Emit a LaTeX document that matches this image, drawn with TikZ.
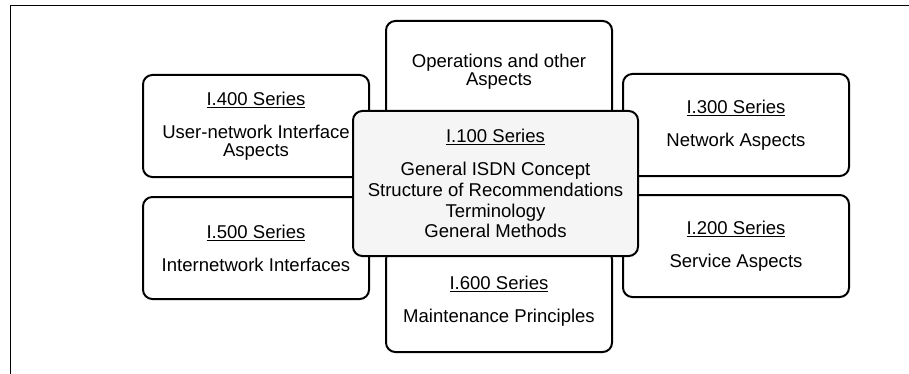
\documentclass[tikz,border=0pt]{standalone}
\usepackage{fontspec}
\setmainfont{Liberation Sans}
\begin{document}
\begin{tikzpicture}
      [x=0.75pt,y=-0.75pt,
       series/.style={draw,line width=1.5pt,rounded corners=7pt,fill=white,
         minimum width=169.5pt,minimum height=76.5pt,inner sep=0pt,align=center,
         font=\fontsize{13.9pt}{13.7pt}\selectfont},
       core/.style={series,fill=black!4,minimum width=213.75pt,minimum height=108.75pt,
         font=\fontsize{13.9pt}{15.7pt}\selectfont}]
      \useasboundingbox (0,0) rectangle (909,374);
      \draw[line width=0.75pt] (10,374) -- (10,6) -- (909,6);
      \node[series] (ops) at (499,72) {Operations and other\\Aspects};
      \node[series] (s600) at (499,301) {\underline{I.600 Series}\\[11pt]Maintenance Principles};
      \node[series] (s400) at (256,126) {\underline{I.400 Series}\\[11pt]User-network Interface\\Aspects};
      \node[series] (s500) at (256,248) {\underline{I.500 Series}\\[11pt]Internetwork Interfaces};
      \node[series] (s300) at (736,125) {\underline{I.300 Series}\\[11pt]Network Aspects};
      \node[series] (s200) at (736,246) {\underline{I.200 Series}\\[11pt]Service Aspects};
      \node[core] (s100) at (495.5,183.5) {\underline{I.100 Series}\\[9pt]General ISDN Concept\\
        Structure of Recommendations\\Terminology\\General Methods};
    \end{tikzpicture}
\end{document}
